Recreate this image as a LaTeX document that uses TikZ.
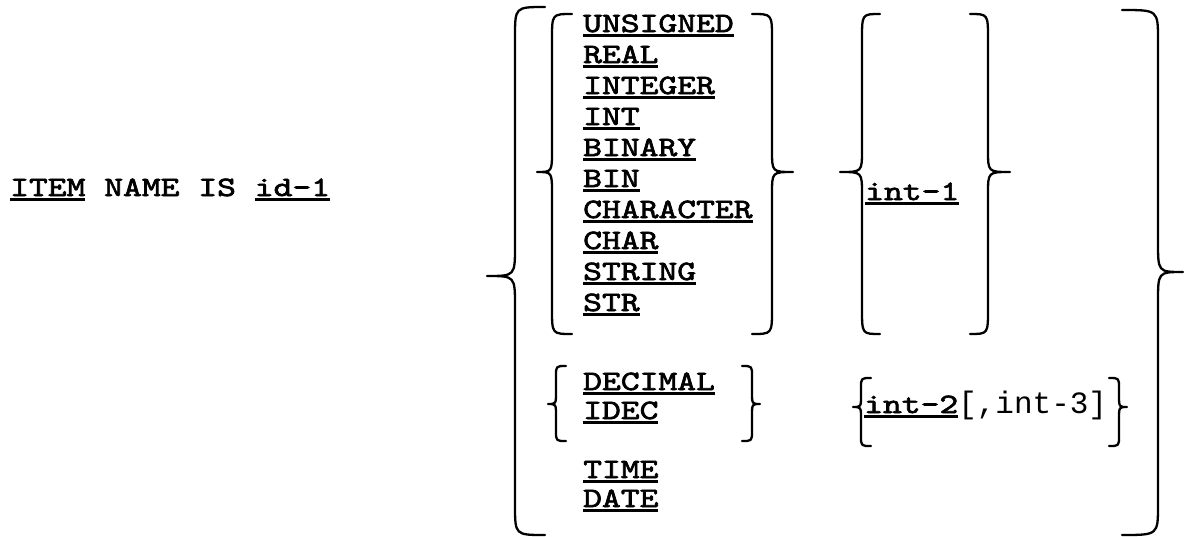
\documentclass[tikz,border=0pt]{standalone}
\usepackage{fontspec}
\setmonofont{Liberation Mono}
\newfontfamily\typew{lmmono10-regular.otf}[FakeBold=2.5, FakeStretch=1.28]
\newsavebox\kwbox
\newcommand{\kw}[1]{\sbox\kwbox{#1}\rlap{\rule[-4.5pt]{\wd\kwbox}{2.2pt}}\usebox\kwbox}
\tikzset{
  brace/.style={line width=2.3pt, line cap=round, line join=round},
  word/.style={anchor=base west, inner sep=0pt, font=\typew\fontsize{28}{28}\selectfont},
}
% #1 line x, #2 tip x, #3 hook x, #4 top y, #5 mid y, #6 bottom y, #7 hook size, #8 tip size
\newcommand{\tbrace}[8]{%
  \draw[brace] (#3,#4) .. controls (#1,#4) .. (#1,#4+#7) -- (#1,#5-#8)
    .. controls (#1,#5) .. (#2,#5) .. controls (#1,#5) .. (#1,#5+#8)
    -- (#1,#6-#7) .. controls (#1,#6) .. (#3,#6);}
\begin{document}
\begin{tikzpicture}[x=1pt,y=-1pt]
\useasboundingbox (0,0) rectangle (1186,536);
% left statement
\node[word] (item) at (10,196) {\kw{ITEM} NAME IS \kw{id-1}};
% first group of types
\foreach \w [count=\i] in {UNSIGNED,REAL,INTEGER,INT,BINARY,BIN,CHARACTER,CHAR,STRING,STR}
  \node[word] (w\i) at (583,{32+31*(\i-1)}) {\kw{\w}};
\node[word] (dec)  at (583,390) {\kw{DECIMAL}};
\node[word] (idec) at (583,419) {\kw{IDEC}};
\node[word] (time) at (583,478) {\kw{TIME}};
\node[word] (date) at (583,507) {\kw{DATE}};
% sizes
\node[word] (int1) at (865,200) {\kw{int-1}};
\node[word] (int2) at (864,413) {\kw{int-2}\ttfamily\fontsize{31}{31}\selectfont[,int-3]};
% outer braces
\tbrace{515}{487}{545}{7}{276}{535}{30}{30}
\tbrace{1158}{1183}{1122}{10}{272}{535}{30}{30}
% group 1 braces
\tbrace{552}{537}{572}{14}{172}{334}{25}{22}
\tbrace{772}{793}{752}{14}{172}{334}{25}{22}
% int-1 braces
\tbrace{862}{840}{880}{14}{172}{334}{25}{22}
\tbrace{988}{1010}{970}{14}{172}{334}{25}{22}
% decimal braces
\tbrace{556}{548}{566}{366}{404}{441}{10}{12}
\tbrace{752}{760}{742}{366}{404}{441}{10}{12}
% int-2 braces
\tbrace{861}{853}{871}{378}{407}{446}{10}{12}
\tbrace{1119}{1127}{1109}{378}{407}{446}{10}{12}
\end{tikzpicture}
\end{document}
